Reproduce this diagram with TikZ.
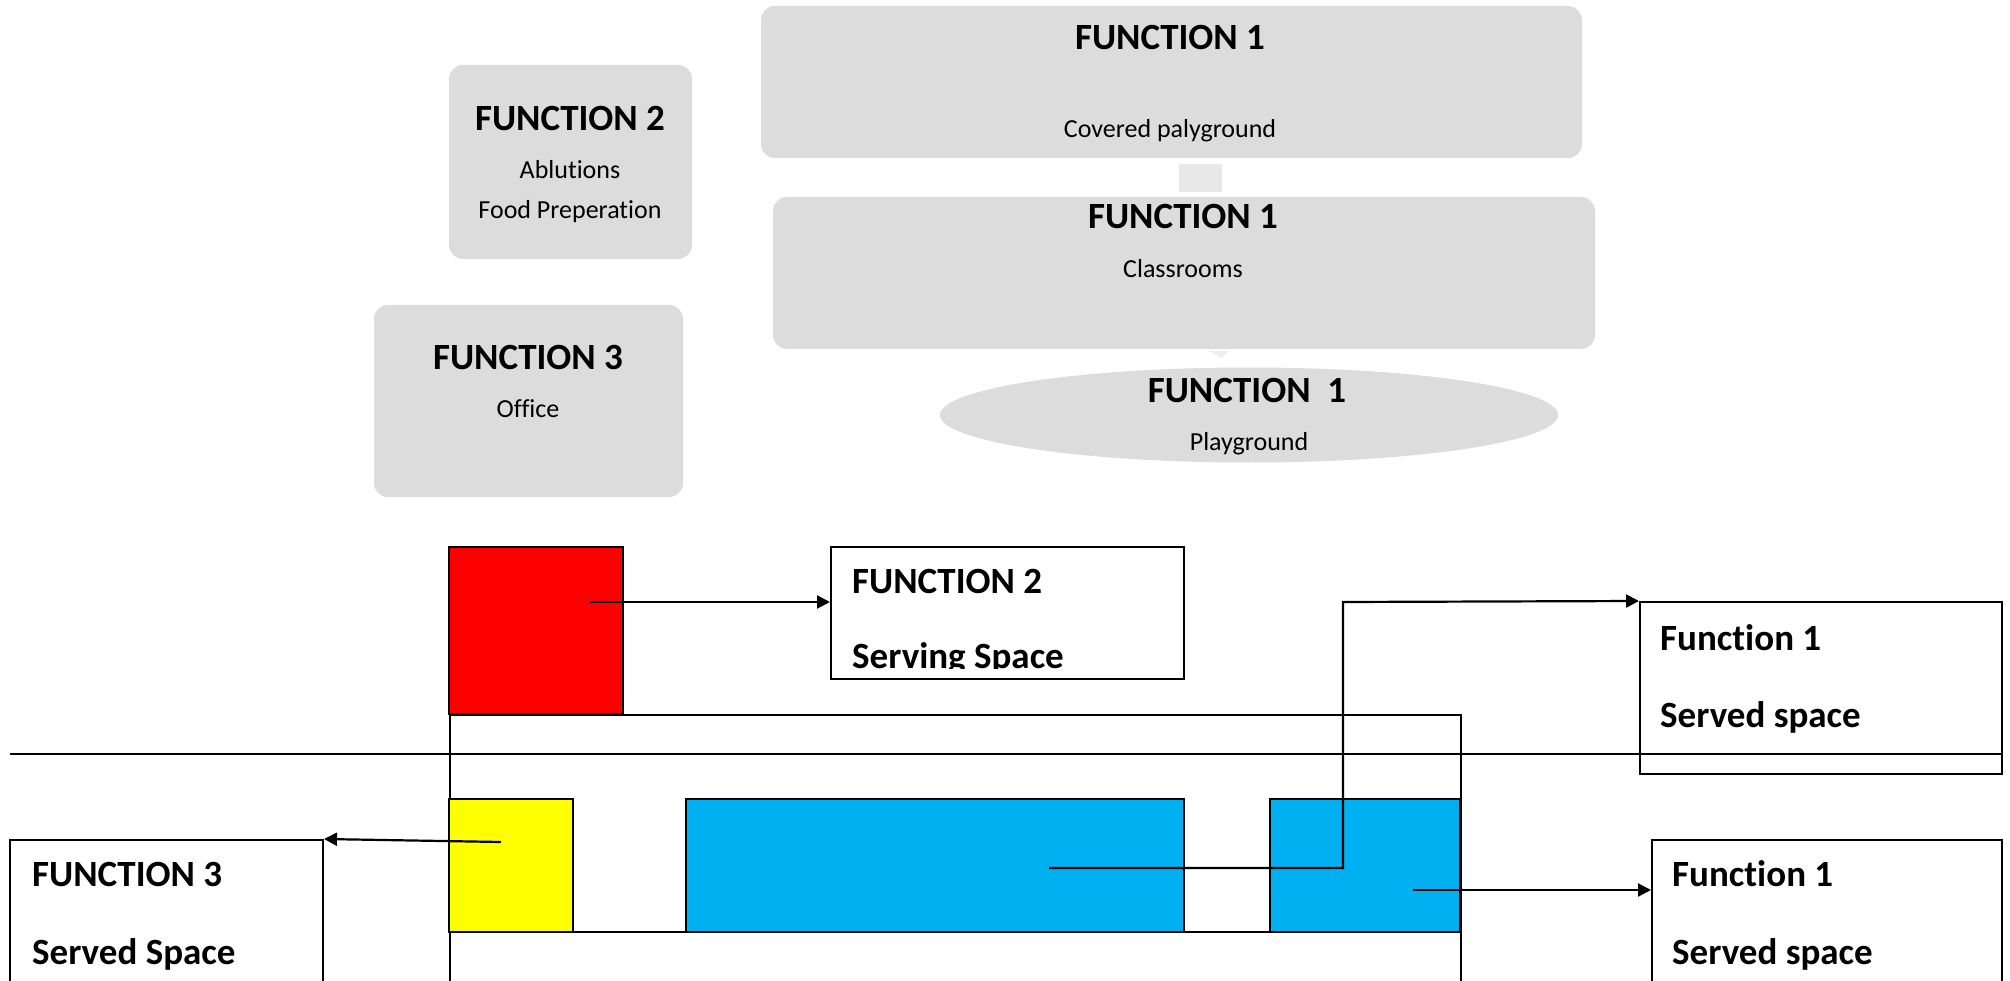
\documentclass[tikz,border=0pt]{standalone}
\usepackage{fontspec}
\setmainfont{Carlito}[Ligatures={NoCommon}]
\usetikzlibrary{shapes.geometric,arrows.meta,calc}
\definecolor{boxgray}{HTML}{DCDCDC}
\definecolor{linkgray}{HTML}{E8E8E8}
\definecolor{faintgray}{HTML}{EFEFEF}
\definecolor{servred}{HTML}{FF0000}
\definecolor{servyellow}{HTML}{FFFF00}
\definecolor{servblue}{HTML}{00B0F0}
\begin{document}
\begin{tikzpicture}[x=1pt,y=-1pt,
  gbox/.style={fill=boxgray, draw=none, rounded corners=14pt, inner sep=0pt},
  head/.style={font=\fontsize{37}{44}\selectfont\bfseries, inner sep=0pt},
  sub/.style={font=\fontsize{26}{31}\selectfont, inner sep=0pt},
  obox/.style={draw=black, line width=2pt, inner sep=0pt},
  cbox/.style={draw=black, line width=2pt, inner sep=0pt},
  arr/.style={-{Triangle[length=13pt,width=13pt]}, line width=2.2pt},
]
\clip (0,0) rectangle (2010,981);
\fill[white] (0,0) rectangle (2010,981);

% ---------- upper diagram ----------
\node[gbox, minimum width=821pt, minimum height=152pt] (cov) at (1171.5,82) {};
\node[head] (covh) at (1170,38) {FUNCTION 1};
\node[sub] (covs) at (1170,131) {Covered palyground};

\node[fill=linkgray, inner sep=0pt, minimum width=43pt, minimum height=28pt] (link) at (1200.5,178) {};

\node[gbox, minimum width=822pt, minimum height=152pt] (cls) at (1184,273) {};
\node[head] (clsh) at (1183,217) {FUNCTION 1};
\node[sub] (clss) at (1183,269) {Classrooms};

\fill[faintgray] (1209,351) -- (1228,351) -- (1222,358) -- cycle;

\node[ellipse, fill=boxgray, inner sep=0pt, minimum width=618pt, minimum height=95pt] (pg) at (1249,415) {};
\node[head] (pgh) at (1247,391) {FUNCTION\ \ 1};
\node[sub] (pgs) at (1249,444) {Playground};

\node[gbox, minimum width=243pt, minimum height=194pt] (abl) at (570.5,162) {};
\node[head] (ablh) at (570,119) {FUNCTION 2};
\node[sub] (abls1) at (570,170) {Ablutions};
\node[sub] (abls2) at (570,212) {Food Preperation};

\node[gbox, minimum width=309pt, minimum height=192pt] (off) at (528.5,401) {};
\node[head] (offh) at (528,358) {FUNCTION 3};
\node[sub] (offs) at (528,409) {Office};

% ---------- lower diagram ----------
\node[obox, minimum width=1011pt, minimum height=300pt, anchor=north west] (site) at (449,714) {};
\draw[line width=2pt] (449,932) -- (1460,932);

\node[cbox, fill=servred, minimum width=174pt, minimum height=167pt] (red) at (536,630.5) {};
\node[cbox, fill=servyellow, minimum width=124pt, minimum height=133pt] (yel) at (511,865.5) {};
\node[cbox, fill=servblue, minimum width=498pt, minimum height=133pt] (blu) at (935,865.5) {};
\node[cbox, fill=servblue, minimum width=190pt, minimum height=133pt] (blus) at (1365,865.5) {};

\draw[line width=2pt] (10,754) coordinate (gl) -- (2002,754) coordinate (gr);

% label boxes
\node[obox, minimum width=353pt, minimum height=132pt] (f2s) at (1007.5,613) {};
\node[head, anchor=west] (f2sh) at (852,582) {FUNCTION 2};
\begin{scope}
\clip (840,560) rectangle (1180,668);
\node[head, anchor=west] (f2ss) at (852,659) {Serving Space};
\end{scope}

\node[obox, minimum width=362pt, minimum height=172pt] (f1a) at (1821,688) {};
\node[head, anchor=west] (f1ah) at (1660,638) {Function 1};
\node[head, anchor=west] (f1as) at (1660,717) {Served space};

\node[obox, minimum width=350pt, minimum height=180pt] (f1b) at (1827,930) {};
\node[head, anchor=west] (f1bh) at (1672,874) {Function 1};
\node[head, anchor=west] (f1bs) at (1672,954) {Served space};

\node[obox, minimum width=313pt, minimum height=180pt] (f3s) at (166.5,930) {};
\node[head, anchor=west] (f3sh) at (32,874) {FUNCTION 3};
\node[head, anchor=west] (f3ss) at (32,954) {Served Space};

% connectors
\coordinate (a1) at (590,602);
\draw[arr] (a1) -- (a1 -| f2s.west);

\coordinate (a3) at (501,842);
\draw[arr] (a3) -- (f3s.north east);

\coordinate (a2) at (1049,868);
\coordinate (bend) at (1343,602);
\draw[arr] (a2) -| (bend) -- (f1a.north west);

\coordinate (a4) at (1413,890);
\draw[arr] (a4) -- (a4 -| f1b.west);
\end{tikzpicture}
\end{document}
